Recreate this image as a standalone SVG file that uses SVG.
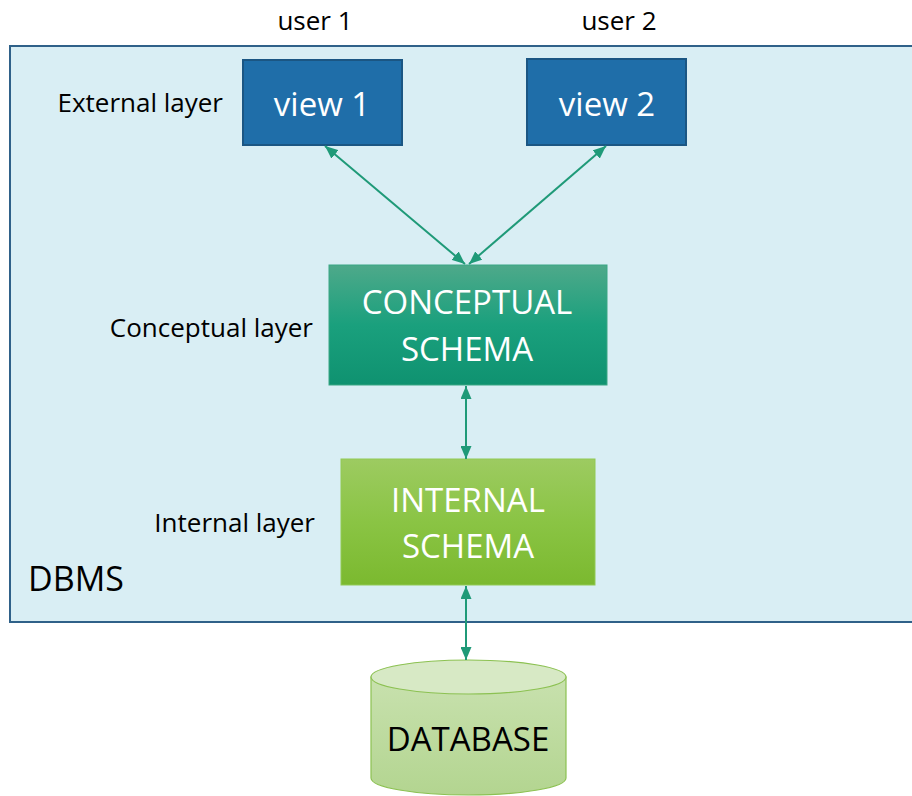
<svg xmlns="http://www.w3.org/2000/svg" width="912" height="796" viewBox="0 0 912 796">
<defs>
<linearGradient id="gConc" x1="0" y1="0" x2="0" y2="1">
<stop offset="0" stop-color="#4ea98a"/>
<stop offset="0.5" stop-color="#1aa07d"/>
<stop offset="1" stop-color="#0f9270"/>
</linearGradient>
<linearGradient id="gInt" x1="0" y1="0" x2="0" y2="1">
<stop offset="0" stop-color="#9dcb61"/>
<stop offset="0.5" stop-color="#8ac444"/>
<stop offset="1" stop-color="#7bb92f"/>
</linearGradient>
<linearGradient id="gDb" x1="0" y1="0" x2="0" y2="1">
<stop offset="0" stop-color="#c8e1ae"/>
<stop offset="1" stop-color="#b3d590"/>
</linearGradient>
<marker id="arr" viewBox="0 0 13 11" refX="13" refY="5.5" markerWidth="13" markerHeight="11" markerUnits="userSpaceOnUse" orient="auto-start-reverse">
<path d="M0,0 L13,5.5 L0,11 Z" fill="#1f9a78"/>
</marker>
<style>
.lbl{font-family:"Open Sans","Liberation Sans",sans-serif;font-size:26px;fill:#000}
.big{font-family:"Open Sans","Liberation Sans",sans-serif;font-size:33px;fill:#fff;text-anchor:middle}
.conn{stroke:#1f9a78;stroke-width:2;fill:none;marker-start:url(#arr);marker-end:url(#arr)}
</style>
</defs>
<rect x="0" y="0" width="912" height="796" fill="#ffffff"/>
<g id="dbms">
<rect x="10" y="46" width="912" height="576" fill="#d9eef4" stroke="#2f6189" stroke-width="2"/>
<text x="28" y="591" font-family="Open Sans, Liberation Sans, sans-serif" font-size="34" fill="#000">DBMS</text>
</g>
<g id="labels">
<text class="lbl" x="315" y="30" text-anchor="middle">user 1</text>
<text class="lbl" x="619" y="30" text-anchor="middle">user 2</text>
<text class="lbl" x="223" y="112" text-anchor="end">External layer</text>
<text class="lbl" x="313" y="337" text-anchor="end">Conceptual layer</text>
<text class="lbl" x="315" y="532" text-anchor="end">Internal layer</text>
</g>
<g id="view1">
<rect x="243" y="60" width="159" height="85" fill="#1f6ea9" stroke="#1b5683" stroke-width="2"/>
<text class="big" x="322" y="116" font-size="37">view 1</text>
</g>
<g id="view2">
<rect x="527" y="59" width="159" height="86" fill="#1f6ea9" stroke="#1b5683" stroke-width="2"/>
<text class="big" x="607" y="116" font-size="37">view 2</text>
</g>
<g id="conceptual">
<rect x="329" y="265" width="278" height="120" fill="url(#gConc)" stroke="#3aa683" stroke-width="1"/>
<text class="big" x="467" y="314">CONCEPTUAL</text>
<text class="big" x="467" y="361">SCHEMA</text>
</g>
<g id="internal">
<rect x="341" y="459" width="254" height="126" fill="url(#gInt)" stroke="#92c955" stroke-width="1"/>
<text class="big" x="468" y="512">INTERNAL</text>
<text class="big" x="468" y="558">SCHEMA</text>
</g>
<g id="database">
<path d="M371,677 L371,778 A97.5,17 0 0 0 566,778 L566,677 Z" fill="url(#gDb)" stroke="#8cc152" stroke-width="1.2"/>
<ellipse cx="468.5" cy="677" rx="97.5" ry="17" fill="#d7e9c5" stroke="#8cc152" stroke-width="1.2"/>
<text x="468" y="751" text-anchor="middle" font-family="Open Sans, Liberation Sans, sans-serif" font-size="33" fill="#000">DATABASE</text>
</g>
<g id="connectors">
<line class="conn" x1="325" y1="146" x2="465" y2="264"/>
<line class="conn" x1="606" y1="146" x2="469" y2="264"/>
<line class="conn" x1="466" y1="386" x2="466" y2="459"/>
<line class="conn" x1="466" y1="586" x2="466" y2="660"/>
</g>
</svg>
